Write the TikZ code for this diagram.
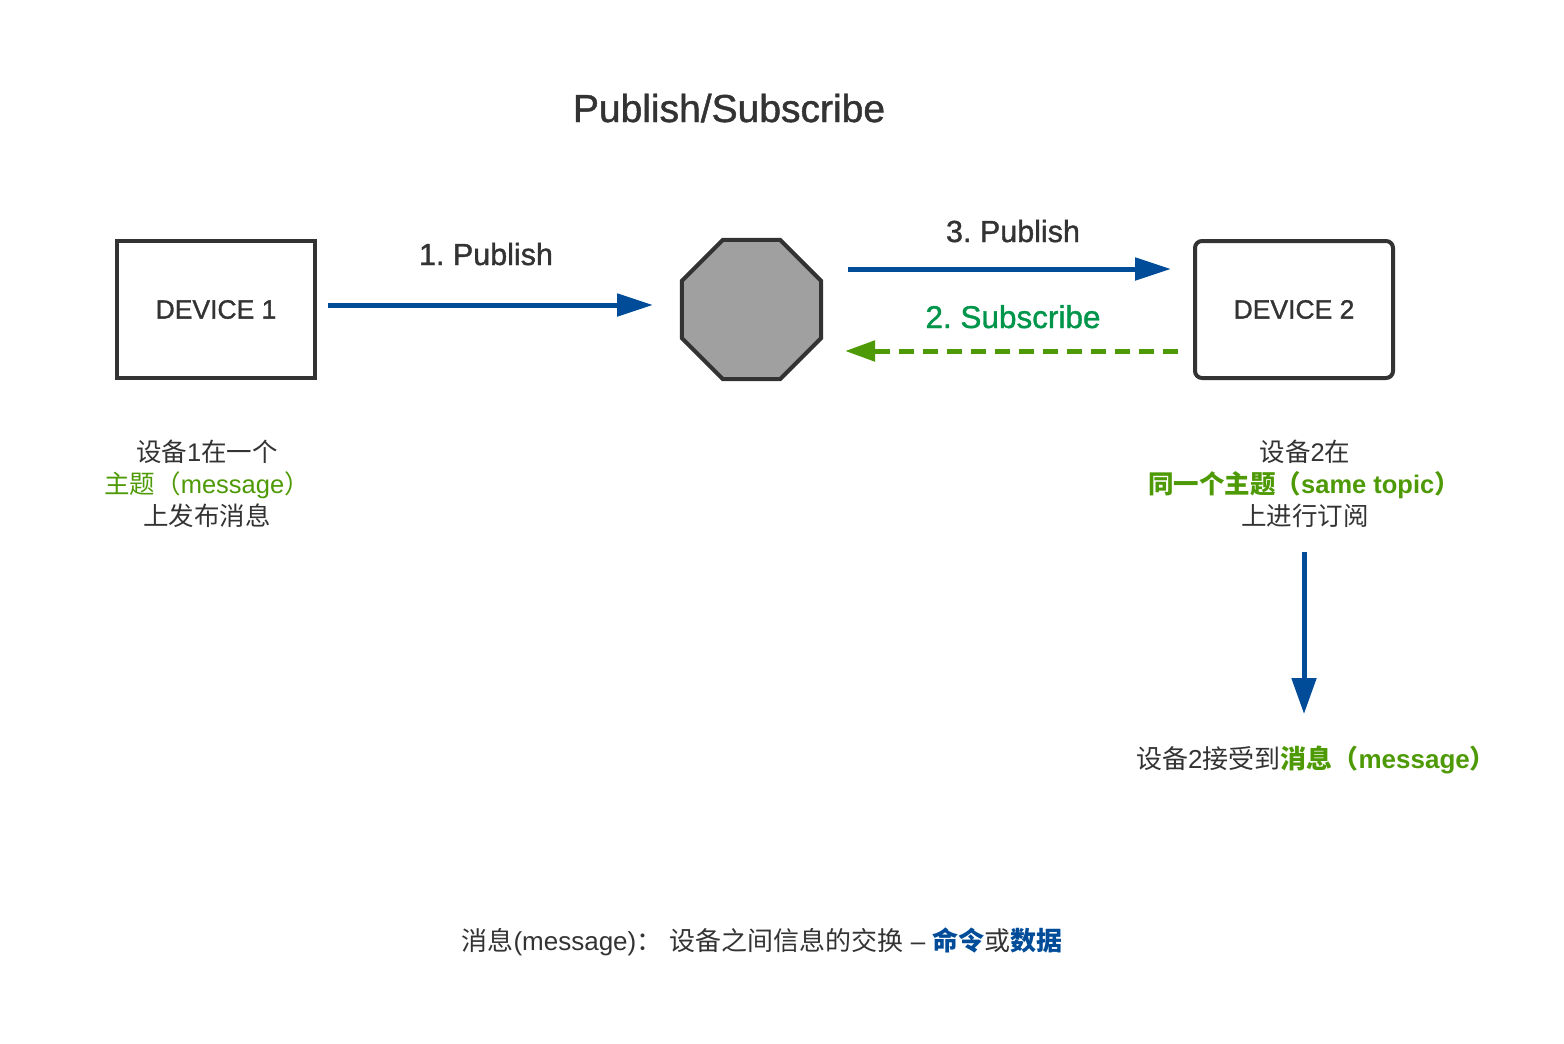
\documentclass[tikz,border=0pt]{standalone}
\usepackage{fontspec}
\setmainfont{Liberation Sans}
\newfontfamily\medfont{Liberation Sans}[FakeBold=1.2]
\newfontfamily\cjk{Noto Sans CJK SC}
\usetikzlibrary{arrows.meta,shapes.geometric}
\definecolor{txt}{HTML}{333333}
\definecolor{blu}{HTML}{004C99}
\definecolor{grn}{HTML}{4E9A06}
\definecolor{sgrn}{HTML}{00954A}
\definecolor{octfill}{HTML}{A0A0A0}
\newcommand{\zh}[1]{{\cjk #1}}
\frenchspacing
\begin{document}
\begin{tikzpicture}[x=1pt,y=-1pt,
  every node/.style={inner sep=0pt, outer sep=0pt, text=txt},
  dev/.style={draw=txt, line width=4pt, minimum width=198pt, minimum height=137pt,
    font=\medfont\fontsize{26.5}{30}\selectfont},
  lbl/.style={anchor=base, font=\medfont\fontsize{30.5}{36}\selectfont},
  zhline/.style={anchor=base, font=\fontsize{25.5}{32}\selectfont},
  bluearrow/.style={draw=blu, line width=5pt, -{Triangle[length=36pt,width=22pt]}},
  grnarrow/.style={draw=grn, line width=5pt, dash pattern=on 15pt off 9pt,
    -{Triangle[length=30pt,width=20pt]}}
]
\useasboundingbox (0,0) rectangle (1564,1044);

% title
\node[anchor=base, font=\medfont\fontsize{39}{44}\selectfont] (title) at (729,122) {Publish/Subscribe};

% devices and broker
\node[dev] (d1) at (216,309.5) {DEVICE 1};
\node[dev, rounded corners=7pt] (d2) at (1294,309.5) {DEVICE 2};
\node[regular polygon, regular polygon sides=8, minimum size=150.5pt,
      draw=txt, fill=octfill, line width=4pt] (broker) at (751.5,309.5) {};

% arrow end points
\coordinate (a1s) at (328,305);
\coordinate (a1e) at (653,305);
\coordinate (a3s) at (848,269);
\coordinate (a3e) at (1171,269);
\coordinate (a2s) at (1178,351);
\coordinate (a2e) at (845,351);
\coordinate (a4s) at (1304,552);
\coordinate (a4e) at (1304,714);

\draw[bluearrow] (a1s) -- (a1e);
\draw[bluearrow] (a3s) -- (a3e);
\draw[grnarrow] (a2s) -- (a2e);
\draw[draw=blu, line width=5pt, -{Triangle[length=36pt,width=24pt]}] (a4s) -- (a4e);

% labels
\node[lbl] (l1) at (486,265) {1. Publish};
\node[lbl] (l3) at (1013,242) {3. Publish};
\node[lbl, text=sgrn, font=\medfont\fontsize{31.5}{36}\selectfont] (l2) at (1013,328) {2. Subscribe};

% device 1 description
\node[zhline] (t11) at (207,461) {\zh{设备}1\zh{在一个}};
\node[zhline, text=grn] (t12) at (207,493) {\zh{主题（}message\zh{）}};
\node[zhline] (t13) at (207,525) {\zh{上发布消息}};

% device 2 description
\node[zhline] (t21) at (1305,461) {\zh{设备}2\zh{在}};
\node[zhline, text=grn, font=\fontsize{25.5}{32}\selectfont\bfseries] (t22) at (1304,493) {\zh{同一个主题（}same topic\zh{）}};
\node[zhline] (t23) at (1305,525) {\zh{上进行订阅}};

% received
\node[zhline, font=\fontsize{26}{32}\selectfont] (rcv) at (1316,768)
  {\zh{设备}2\zh{接受到}\textcolor{grn}{\bfseries\zh{消息（}message\zh{）}}};

% bottom note
\node[zhline, font=\fontsize{26}{32}\selectfont] (note) at (762,950)
  {\zh{消息}(message)\zh{：} \zh{设备之间信息的交换} – \textcolor{blu}{\bfseries\zh{命令}}\zh{或}\textcolor{blu}{\bfseries\zh{数据}}};
\end{tikzpicture}
\end{document}
